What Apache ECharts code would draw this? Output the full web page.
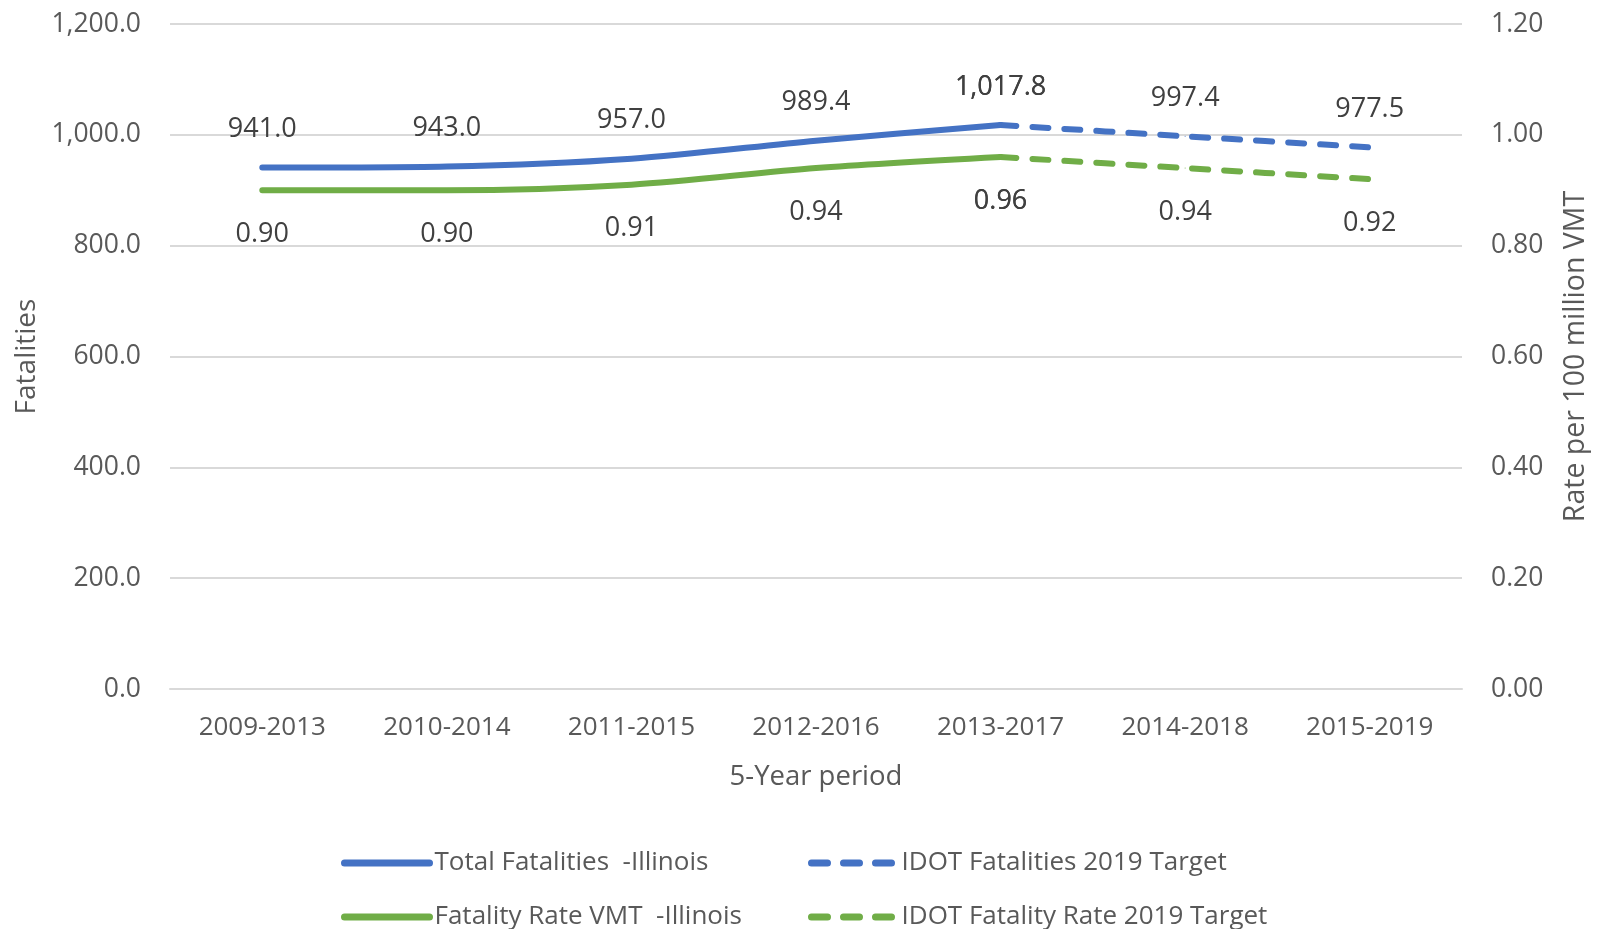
<!DOCTYPE html>
<html>
<head>
<meta charset="utf-8">
<script src="https://cdn.jsdelivr.net/npm/echarts@6/dist/echarts.min.js"></script>
<style>
  html, body { margin: 0; padding: 0; background: #fff; }
  #chart { width: 1598px; height: 929px; }
</style>
</head>
<body>
<div id="chart"></div>
<script>
var periods = ['2009-2013', '2010-2014', '2011-2015', '2012-2016', '2013-2017', '2014-2018', '2015-2019'];
var totalFatalities = [941.0, 943.0, 957.0, 989.4, 1017.8, null, null];
var fatalitiesTarget = [null, null, null, null, 1017.8, 997.4, 977.5];
var fatalityRate = [0.90, 0.90, 0.91, 0.94, 0.96, null, null];
var rateTarget = [null, null, null, null, 0.96, 0.94, 0.92];

var FONT = '"Open Sans", sans-serif';
var BLUE = '#4472C4';
var GREEN = '#70AD47';

function fmtFatal(v) {
    return Number(v).toLocaleString('en-US', { minimumFractionDigits: 1, maximumFractionDigits: 1 });
}

function lineSeries(name, data, color, axis, dashed, labelPos) {
    return {
        name: name,
        type: 'line',
        yAxisIndex: axis,
        data: data,
        smooth: 0.3,
        symbol: 'circle',
        symbolSize: 1,
        itemStyle: { color: color },
        lineStyle: {
            color: color,
            width: 6,
            cap: 'round',
            type: dashed ? [16, 16] : 'solid'
        },
        label: {
            show: true,
            position: labelPos,
            distance: labelPos === 'top' ? 24 : 30,
            color: '#404040',
            fontFamily: FONT,
            fontSize: 27,
            formatter: function (p) {
                return axis === 0 ? fmtFatal(p.value) : Number(p.value).toFixed(2);
            }
        },
        emphasis: { disabled: true }
    };
}

function legendAt(name, left, top) {
    return {
        data: [name],
        left: left,
        top: top,
        itemWidth: 85,
        itemHeight: 2,
        selectedMode: false,
        lineStyle: { width: 7, cap: 'round' },
        textStyle: { color: '#595959', fontFamily: FONT, fontSize: 26, lineHeight: 30 }
    };
}

var chart = echarts.init(document.getElementById('chart'), null, { renderer: 'canvas' });

var option = {
    animation: false,
    backgroundColor: '#ffffff',
    grid: { left: 170, right: 136, top: 24, bottom: 240, containLabel: false, outerBoundsMode: 'none' },
    legend: [
        legendAt('Total Fatalities  -Illinois', 336, 843),
        legendAt('IDOT Fatalities 2019 Target', 803, 843),
        legendAt('Fatality Rate VMT  -Illinois', 336, 897),
        legendAt('IDOT Fatality Rate 2019 Target', 803, 897)
    ],
    xAxis: {
        type: 'category',
        data: periods,
        boundaryGap: true,
        name: '5-Year period',
        nameLocation: 'middle',
        nameGap: 74,
        nameMoveOverlap: false,
        nameTextStyle: { color: '#595959', fontFamily: FONT, fontSize: 27.5 },
        axisLine: { show: true, lineStyle: { color: '#D9D9D9', width: 2 } },
        axisTick: { show: false },
        axisLabel: { color: '#595959', fontFamily: FONT, fontSize: 26, margin: 26 }
    },
    yAxis: [
        {
            type: 'value',
            min: 0,
            max: 1200,
            interval: 200,
            name: 'Fatalities',
            nameLocation: 'middle',
            nameRotate: 90,
            nameGap: 129,
            nameMoveOverlap: false,
            nameTextStyle: { color: '#595959', fontFamily: FONT, fontSize: 28 },
            axisLine: { show: false },
            axisTick: { show: false },
            splitLine: { lineStyle: { color: '#D9D9D9', width: 2 } },
            axisLabel: { color: '#595959', fontFamily: FONT, fontSize: 26.5, margin: 29, formatter: fmtFatal }
        },
        {
            type: 'value',
            min: 0,
            max: 1.2,
            interval: 0.2,
            position: 'right',
            name: 'Rate per 100 million VMT',
            nameLocation: 'middle',
            nameRotate: 90,
            nameGap: 99,
            nameMoveOverlap: false,
            nameTextStyle: { color: '#595959', fontFamily: FONT, fontSize: 28.5 },
            axisLine: { show: false },
            axisTick: { show: false },
            splitLine: { show: false },
            axisLabel: {
                color: '#595959', fontFamily: FONT, fontSize: 26.5, margin: 29,
                formatter: function (v) { return v.toFixed(2); }
            }
        }
    ],
    series: [
        lineSeries('Total Fatalities  -Illinois', totalFatalities, BLUE, 0, false, 'top'),
        lineSeries('IDOT Fatalities 2019 Target', fatalitiesTarget, BLUE, 0, true, 'top'),
        lineSeries('Fatality Rate VMT  -Illinois', fatalityRate, GREEN, 1, false, 'bottom'),
        lineSeries('IDOT Fatality Rate 2019 Target', rateTarget, GREEN, 1, true, 'bottom')
    ]
};

chart.setOption(option);
window.addEventListener('resize', chart.resize);
</script>
</body>
</html>
